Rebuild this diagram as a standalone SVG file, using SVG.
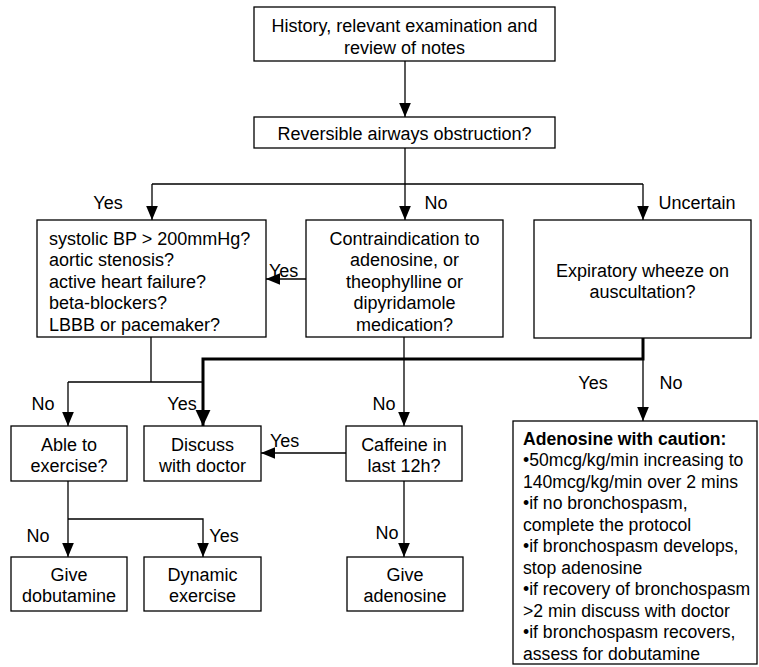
<svg xmlns="http://www.w3.org/2000/svg" width="759" height="667" viewBox="0 0 759 667">
<defs>
<style>
.box{fill:#fff;stroke:#000;stroke-width:1.3}
text{font-family:"Liberation Sans",Arial,sans-serif;font-size:18px;fill:#000}
.c{text-anchor:middle}
.b{font-weight:bold}
.s{font-size:17.6px}
.ln{fill:none;stroke:#000;stroke-width:1.3}
.thk{fill:none;stroke:#000;stroke-width:3}
</style>
<marker id="ah" markerUnits="userSpaceOnUse" markerWidth="14" markerHeight="14" viewBox="0 0 12 10" refX="12" refY="5" orient="auto">
<path d="M0,0 L12,5 L0,10 Z" fill="#000"/>
</marker>
<marker id="ahb" markerUnits="userSpaceOnUse" markerWidth="16" markerHeight="16" viewBox="0 0 14 13" refX="14" refY="6.5" orient="auto">
<path d="M0,0 L14,6.5 L0,13 Z" fill="#000"/>
</marker>
</defs>
<rect width="759" height="667" fill="#fff"/>
<g id="connectors">
<path class="ln" d="M405,61 V117" marker-end="url(#ah)"/>
<path class="ln" d="M405,148 V184 M152,184 H643"/>
<path class="ln" d="M152,184 V220" marker-end="url(#ah)"/>
<path class="ln" d="M405,184 V220" marker-end="url(#ah)"/>
<path class="ln" d="M643,184 V220" marker-end="url(#ah)"/>
<path class="ln" d="M306,279 H266" marker-end="url(#ah)"/>
<path class="ln" d="M151,337 V382 M68,382 H203"/>
<path class="ln" d="M68,382 V426" marker-end="url(#ah)"/>
<path class="thk" d="M643,338 V359 H203 V426" marker-end="url(#ahb)"/>
<path class="ln" d="M643,359 V421" marker-end="url(#ah)"/>
<path class="ln" d="M404,337 V426" marker-end="url(#ah)"/>
<path class="ln" d="M346,453 H261" marker-end="url(#ah)"/>
<path class="ln" d="M68,481 V557" marker-end="url(#ah)"/>
<path class="ln" d="M68,519 H203 V557" marker-end="url(#ah)"/>
<path class="ln" d="M404,481 V557" marker-end="url(#ah)"/>
<text class="c" x="108" y="208.5">Yes</text>
<text class="c" x="436" y="208.5">No</text>
<text class="c" x="697" y="208.5">Uncertain</text>
<text x="269" y="277">Yes</text>
<text class="c" x="43" y="409.5">No</text>
<text class="c" x="182" y="409.5">Yes</text>
<text class="c" x="384" y="409.5">No</text>
<text class="c" x="593" y="388.5">Yes</text>
<text class="c" x="671" y="388.5">No</text>
<text x="270" y="447">Yes</text>
<text class="c" x="38" y="541.5">No</text>
<text class="c" x="224" y="541.5">Yes</text>
<text class="c" x="387" y="538.5">No</text>
</g>
<g id="history">
<rect class="box" x="254" y="7" width="301" height="54"/>
<text class="c" x="404.5" y="31.5">History, relevant examination and</text>
<text class="c" x="404.5" y="53.5">review of notes</text>
</g>
<g id="reversible">
<rect class="box" x="254" y="117" width="301" height="31"/>
<text class="c" x="404.5" y="139.5">Reversible airways obstruction?</text>
</g>
<g id="contra-exercise">
<rect class="box" x="37" y="220" width="229" height="117"/>
<text x="49" y="244.5">systolic BP &gt; 200mmHg?</text>
<text x="49" y="266">aortic stenosis?</text>
<text x="49" y="287.5">active heart failure?</text>
<text x="49" y="309">beta-blockers?</text>
<text x="49" y="330.5">LBBB or pacemaker?</text>
</g>
<g id="contra-adenosine">
<rect class="box" x="306" y="220" width="197" height="117"/>
<text class="c" x="404.5" y="244.5">Contraindication to</text>
<text class="c" x="404.5" y="266">adenosine, or</text>
<text class="c" x="404.5" y="287.5">theophylline or</text>
<text class="c" x="404.5" y="309">dipyridamole</text>
<text class="c" x="404.5" y="330.5">medication?</text>
</g>
<g id="wheeze">
<rect class="box" x="534" y="220" width="217" height="118"/>
<text class="c" x="642.5" y="276.5">Expiratory wheeze on</text>
<text class="c" x="642.5" y="298">auscultation?</text>
</g>
<g id="able">
<rect class="box" x="11" y="426" width="116" height="55"/>
<text class="c" x="69" y="450.5">Able to</text>
<text class="c" x="69" y="471.5">exercise?</text>
</g>
<g id="discuss">
<rect class="box" x="144" y="426" width="117" height="55"/>
<text class="c" x="202.5" y="450.5">Discuss</text>
<text class="c" x="202.5" y="471.5">with doctor</text>
</g>
<g id="caffeine">
<rect class="box" x="346" y="426" width="116" height="55"/>
<text class="c" x="404" y="450.5">Caffeine in</text>
<text class="c" x="404" y="471.5">last 12h?</text>
</g>
<g id="dobutamine">
<rect class="box" x="11" y="557" width="116" height="54"/>
<text class="c" x="69" y="580.5">Give</text>
<text class="c" x="69" y="601.5">dobutamine</text>
</g>
<g id="dynamic">
<rect class="box" x="144" y="557" width="117" height="54"/>
<text class="c" x="202.5" y="580.5">Dynamic</text>
<text class="c" x="202.5" y="601.5">exercise</text>
</g>
<g id="give-adenosine">
<rect class="box" x="347" y="557" width="116" height="54"/>
<text class="c" x="405" y="580.5">Give</text>
<text class="c" x="405" y="601.5">adenosine</text>
</g>
<g id="caution">
<rect class="box" x="513" y="421" width="244" height="243"/>
<text class="b s" x="523" y="444.5">Adenosine with caution:</text>
<text class="s" x="523" y="466">•50mcg/kg/min increasing to</text>
<text class="s" x="523" y="487.5">140mcg/kg/min over 2 mins</text>
<text class="s" x="523" y="509">•if no bronchospasm,</text>
<text class="s" x="523" y="530.5">complete the protocol</text>
<text class="s" x="523" y="552">•if bronchospasm develops,</text>
<text class="s" x="523" y="573.5">stop adenosine</text>
<text class="s" x="523" y="595">•if recovery of bronchospasm</text>
<text class="s" x="523" y="616.5">&gt;2 min discuss with doctor</text>
<text class="s" x="523" y="638">•if bronchospasm recovers,</text>
<text class="s" x="523" y="659.5">assess for dobutamine</text>
</g>
</svg>
